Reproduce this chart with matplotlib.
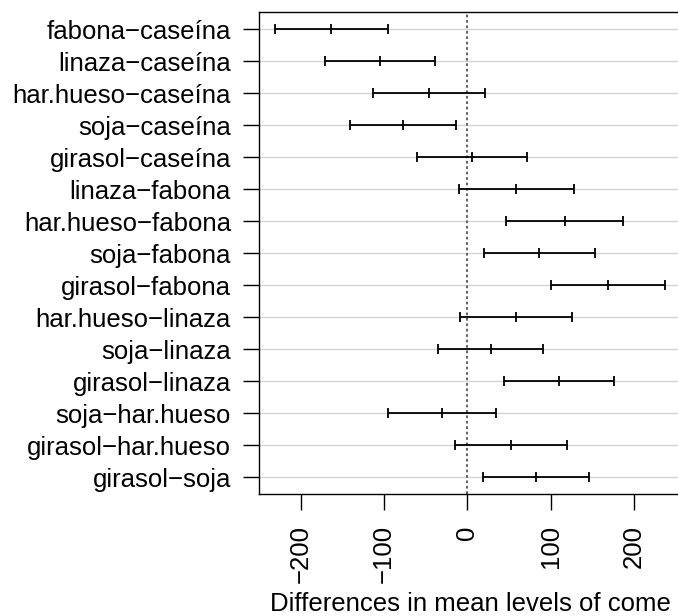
import matplotlib
matplotlib.use("Agg")
import matplotlib.pyplot as plt

plt.rcParams['font.family'] = ['Liberation Sans', 'DejaVu Sans']

# Tukey HSD comparisons, top to bottom
comparisons = [
    "fabona\u2212caseína", "linaza\u2212caseína", "har.hueso\u2212caseína",
    "soja\u2212caseína", "girasol\u2212caseína", "linaza\u2212fabona",
    "har.hueso\u2212fabona", "soja\u2212fabona", "girasol\u2212fabona",
    "har.hueso\u2212linaza", "soja\u2212linaza", "girasol\u2212linaza",
    "soja\u2212har.hueso", "girasol\u2212har.hueso", "girasol\u2212soja",
]
diff = [-163.4, -104.8, -46.7, -77.2, 5.3, 58.6, 116.7, 86.2, 168.7,
        58.2, 27.7, 110.2, -30.5, 52.0, 82.5]
lwr = [-231.1, -170.6, -113.9, -140.5, -60.4, -10.4, 46.2, 19.6, 99.8,
       -9.1, -35.7, 44.4, -95.4, -15.2, 19.1]
upr = [-95.7, -39.1, 20.6, -13.8, 71.1, 127.5, 187.2, 152.8, 237.7,
       125.4, 91.0, 175.9, 34.4, 119.2, 145.9]

n = len(comparisons)
ypos = list(range(n, 0, -1))

fig = plt.figure(figsize=(6.78, 6.16), dpi=100)
ax = fig.add_axes([0.3825, 0.198, 0.622, 0.783])

for y in ypos:
    ax.axhline(y, color='#d3d3d3', lw=1, zorder=0)
ax.axvline(0, color='#666666', lw=1.5, dashes=(1.3, 1.3), zorder=1)

ax.hlines(ypos, lwr, upr, color='black', lw=1.3, zorder=2)
ax.plot(lwr, ypos, ls='none', marker='|', ms=7, mew=1.3, color='black', zorder=3)
ax.plot(upr, ypos, ls='none', marker='|', ms=7, mew=1.3, color='black', zorder=3)
ax.plot(diff, ypos, ls='none', marker='|', ms=7, mew=1.3, color='black', zorder=3)

rng = max(upr) - min(lwr)
ax.set_xlim(min(lwr) - 0.04 * rng, max(upr) + 0.04 * rng)
ax.set_ylim(0.47, n + 0.55)

ax.set_yticks(ypos)
ax.set_yticklabels(comparisons)
ax.set_xticks([-200, -100, 0, 100, 200])
ax.tick_params(axis='both', labelsize=18.5, length=11.5, width=1, color='black')
ax.tick_params(axis='y', pad=9)
ax.tick_params(axis='x', pad=11, labelrotation=90)
for s in ax.spines.values():
    s.set_linewidth(1)

ax.set_xlabel("Differences in mean levels of come", fontsize=18.5, labelpad=6)

fig.savefig("out.png", dpi=100)
